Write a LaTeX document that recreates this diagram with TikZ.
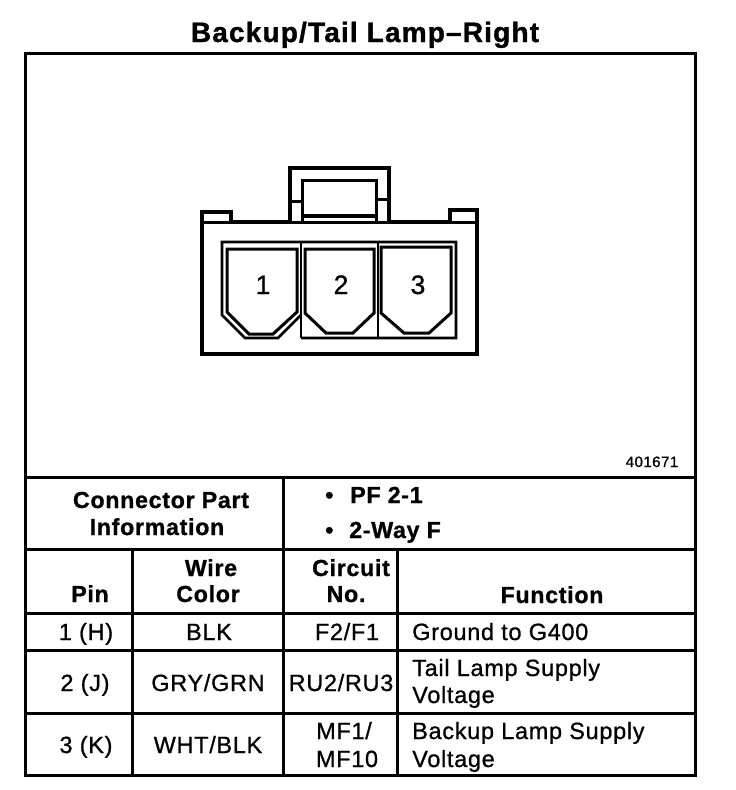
\documentclass[tikz,border=0pt]{standalone}
\usepackage{fontspec}
\setmainfont{Liberation Sans}
\newfontfamily\spaced[LetterSpace=3,FakeBold=0.9]{Liberation Sans}
\newfontfamily\spacedb[LetterSpace=3,FakeBold=1.0]{Liberation Sans Bold}
\newfontfamily\spacedt[LetterSpace=4.2,FakeBold=1.3]{Liberation Sans Bold}
\tikzset{x=0.75pt,y=-0.75pt,
 frameline/.style={line width=2.25pt,line join=miter},
 rule/.style={line width=2.25pt},
 part/.style={line width=2.25pt,line join=miter},
 heavypart/.style={line width=2.6pt,line join=miter},
 thinpart/.style={line width=1.9pt,line join=miter},
 txt/.style={inner sep=0pt,anchor=base},
 title/.style={txt,font=\fontsize{21}{24}\spacedt},
 head/.style={txt,font=\fontsize{17.4}{20}\spacedb},
 cell/.style={txt,font=\fontsize{17.6}{20}\spaced},
 celll/.style={cell,anchor=base west},
 small/.style={txt,font=\fontsize{11.3}{13}\spaced},
 pinnum/.style={txt,font=\fontsize{20}{22}\spaced}}
\begin{document}
\begin{tikzpicture}
\useasboundingbox (0,0) rectangle (736,790);
\fill[white] (0,0) rectangle (736,790);
% frame and table
\draw[frameline] (25,53) rectangle (695,775);
\draw[rule] (25,477) -- (695,477);
\draw[rule] (25,549) -- (695,549);
\draw[rule] (25,613) -- (695,613);
\draw[rule] (25,650) -- (695,650);
\draw[rule] (25,713) -- (695,713);
\draw[rule] (283,477) -- (283,775);
\draw[rule] (132,549) -- (132,775);
\draw[rule] (397,549) -- (397,775);
% connector body
\draw[heavypart] (202,354) -- (202,212) -- (231,212) -- (231,222) -- (290,222) -- (290,168) -- (389,168) -- (389,222) -- (450,222) -- (450,210) -- (477,210) -- (477,354) -- cycle;
\draw[part] (202,222) -- (231,222);
\draw[part] (450,222) -- (477,222);
\draw[part] (302,222) -- (302,180) -- (376,180) -- (376,222);
\draw[heavypart] (302,216) -- (376,216);
\draw[part] (290,222) -- (389,222);
\draw[part] (290,201) -- (302,201);
\draw[part] (376,199) -- (389,199);
% inner housing
\draw[thinpart] (301,338) -- (456,338) -- (456,242) -- (222,242) -- (222,315) -- (245,338) -- (278,338) -- (301,315);
\draw[thinpart] (301,242) -- (301,338);
\draw[thinpart] (378,242) -- (378,338);
\draw[part] (227,249) -- (297,249) -- (297,312) -- (273,334) -- (249,334) -- (227,312) -- cycle;
\draw[part] (305,249) -- (374,249) -- (374,313) -- (353,333) -- (326,333) -- (305,313) -- cycle;
\draw[part] (381,247) -- (451,247) -- (451,313) -- (429,333) -- (404,333) -- (381,313) -- cycle;
% text
\node[title] (t) at (365,42) {Backup/Tail Lamp–Right};
\node[pinnum] (p1) at (263,294) {1};
\node[pinnum] (p2) at (341,294) {2};
\node[pinnum] (p3) at (418,294) {3};
\node[small] (code) at (652,467) {401671};
\node[head] (cpi1) at (161,508) {Connector Part};
\node[head] (cpi2) at (157,535) {Information};
\node[head,anchor=base west] (b1) at (325,503) {•};
\node[head,anchor=base west] (b1t) at (350,503) {PF 2-1};
\node[head,anchor=base west] (b2) at (325,538) {•};
\node[head,anchor=base west] (b2t) at (349,538) {2-Way F};
\node[head] (h1) at (90,602) {Pin};
\node[head] (h2a) at (211,576) {Wire};
\node[head] (h2b) at (208,602) {Color};
\node[head] (h3a) at (351,576) {Circuit};
\node[head] (h3b) at (346,602) {No.};
\node[head] (h4) at (552,603) {Function};
\node[cell] (r1a) at (86,640) {1 (H)};
\node[cell] (r1b) at (209,640) {BLK};
\node[cell] (r1c) at (347,640) {F2/F1};
\node[celll] (r1d) at (412,640) {Ground to G400};
\node[cell] (r2a) at (85,691) {2 (J)};
\node[cell] (r2b) at (208,691) {GRY/GRN};
\node[cell] (r2c) at (341,691) {RU2/RU3};
\node[celll] (r2d) at (412,676) {Tail Lamp Supply};
\node[celll] (r2e) at (412,703) {Voltage};
\node[cell] (r3a) at (86,753) {3 (K)};
\node[cell] (r3b) at (208,753) {WHT/BLK};
\node[cell] (r3c) at (344,739) {MF1/};
\node[cell] (r3e) at (347,767) {MF10};
\node[celll] (r3d) at (412,739) {Backup Lamp Supply};
\node[celll] (r3f) at (412,767) {Voltage};
\end{tikzpicture}
\end{document}
